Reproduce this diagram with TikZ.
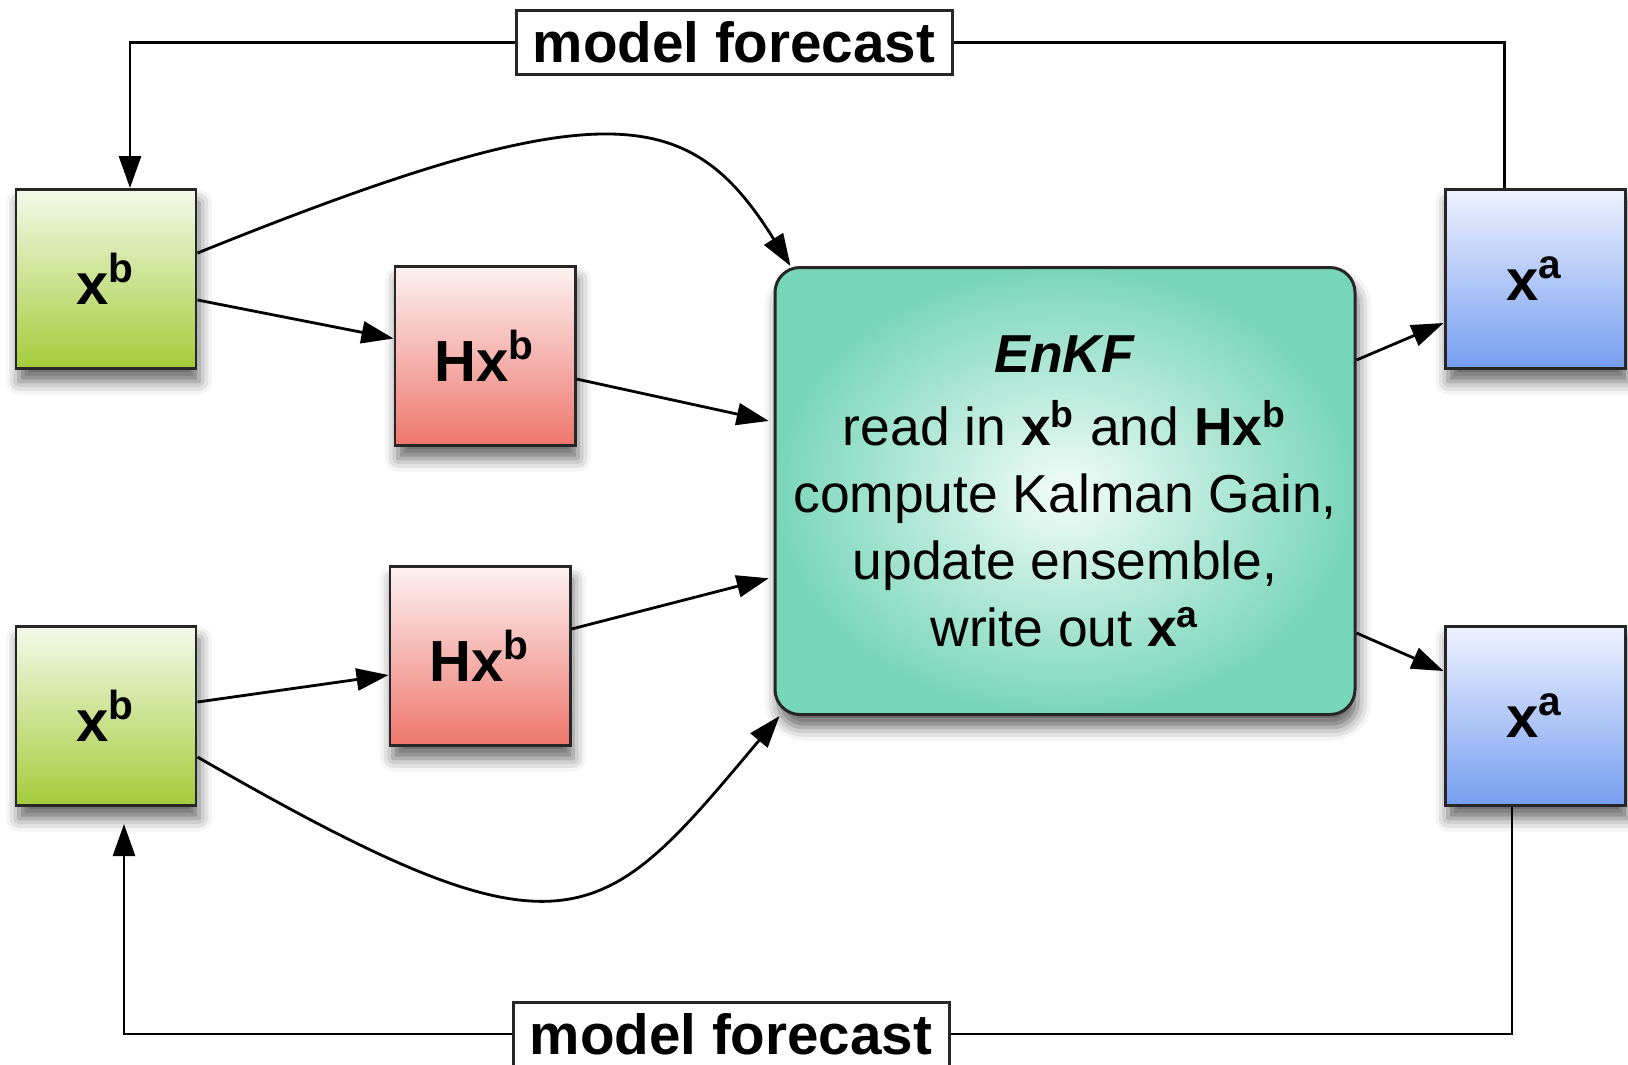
\documentclass[tikz,border=0pt]{standalone}
\usepackage{fontspec}
\setmainfont{Liberation Sans}
\usetikzlibrary{arrows.meta,shadows.blur}
\definecolor{greenlo}{RGB}{163,204,58}
\definecolor{greenhi}{RGB}{243,249,233}
\definecolor{redlo}{RGB}{238,118,108}
\definecolor{redhi}{RGB}{253,242,242}
\definecolor{bluelo}{RGB}{118,158,240}
\definecolor{bluehi}{RGB}{238,242,255}
\definecolor{tealout}{RGB}{120,214,184}
\definecolor{tealin}{RGB}{242,252,249}
\begin{document}
\begin{tikzpicture}[
      box/.style={
        % The shape:
        rectangle,minimum width=1.8cm,minimum height=1.79cm,inner sep=0pt,
        % The rest
        line width=0.85pt,draw=black!85,
        blur shadow={shadow xshift=0.3mm,shadow yshift=-1.3mm,shadow blur radius=1.3mm,shadow opacity=60},
        font=\fontsize{16.5}{20}\selectfont\bfseries},
      bkg/.style={box,top color=greenhi,bottom color=greenlo},
      obs/.style={box,top color=redhi,bottom color=redlo},
      ana/.style={box,top color=bluehi,bottom color=bluelo},
      filter/.style={rectangle,rounded corners=2.5mm,minimum width=5.8cm,minimum height=4.47cm,
        line width=0.85pt,draw=black!85,inner color=tealin,outer color=tealout,
        blur shadow={shadow xshift=0.3mm,shadow yshift=-1.3mm,shadow blur radius=1.3mm,shadow opacity=60},
        align=center,font=\fontsize{15.2}{19}\selectfont},
      label/.style={rectangle,minimum width=4.36cm,minimum height=0.64cm,inner sep=0pt,
        line width=0.85pt,draw=black!85,fill=white,font=\fontsize{16.1}{19}\selectfont\bfseries},
      wire/.style={line width=0.8pt},
      link/.style={wire,-{Triangle[length=3.2mm,width=2.2mm]}}]
    \useasboundingbox (0,0) rectangle (16.28,-10.64);
    \node(xbT)[bkg] at (1.06,-2.79) {x\textsuperscript{b}};
    \node(hxT)[obs] at (4.85,-3.56) {Hx\textsuperscript{b}};
    \node(xbB)[bkg] at (1.06,-7.16) {x\textsuperscript{b}};
    \node(hxB)[obs] at (4.80,-6.56) {Hx\textsuperscript{b}};
    \node(enkf)[filter] at (10.65,-4.91) {\textbf{\textit{EnKF}}\\[2pt]
      read in \textbf{x\textsuperscript{b}} and \textbf{Hx\textsuperscript{b}}\\
      compute Kalman Gain,\\ update ensemble,\\ write out \textbf{x\textsuperscript{a}}};
    \node(xaT)[ana] at (15.35,-2.79) {x\textsuperscript{a}};
    \node(xaB)[ana] at (15.35,-7.16) {x\textsuperscript{a}};
    \node(mfT)[label] at (7.34,-0.426) {model forecast};
    \node(mfB)[label] at (7.31,-10.34) {model forecast};
    % forecast loops
    \draw[wire] ([xshift=-3.05mm]xaT.north) |- (mfT.east);
    \draw[link] (mfT.west) -| ([xshift=2.4mm]xbT.north);
    \draw[wire] ([xshift=-2.3mm]xaB.south) |- (mfB.east);
    \draw[link, shorten >=1.7mm] (mfB.west) -| ([xshift=1.8mm]xbB.south);
    % into the filter
    \draw[link] ([yshift=2.6mm]xbT.east) .. controls +(22:4.4) and +(122:1.9) .. ([xshift=1.7mm]enkf.north west);
    \draw[link] ([yshift=-4.1mm]xbB.east) .. controls +(-30:4.3) and +(230:2.8) .. ([xshift=0.6mm]enkf.south west);
    \draw[link] ([yshift=-2.1mm]xbT.east) -- ([yshift=1.75mm]hxT.west);
    \draw[link, shorten >=0.5mm] ([yshift=-2.3mm]hxT.east) -- ([yshift=6.9mm]enkf.west);
    \draw[link] ([yshift=1.4mm]xbB.east) -- ([yshift=-1.9mm]hxB.west);
    \draw[link, shorten >=0.5mm] ([yshift=2.7mm]hxB.east) -- ([yshift=-8.6mm]enkf.west);
    % out of the filter
    \draw[link] ([yshift=13.1mm]enkf.east) -- ([yshift=-4.4mm]xaT.west);
    \draw[link] ([yshift=-14.2mm]enkf.east) -- ([yshift=4.5mm]xaB.west);
  \end{tikzpicture}
\end{document}
